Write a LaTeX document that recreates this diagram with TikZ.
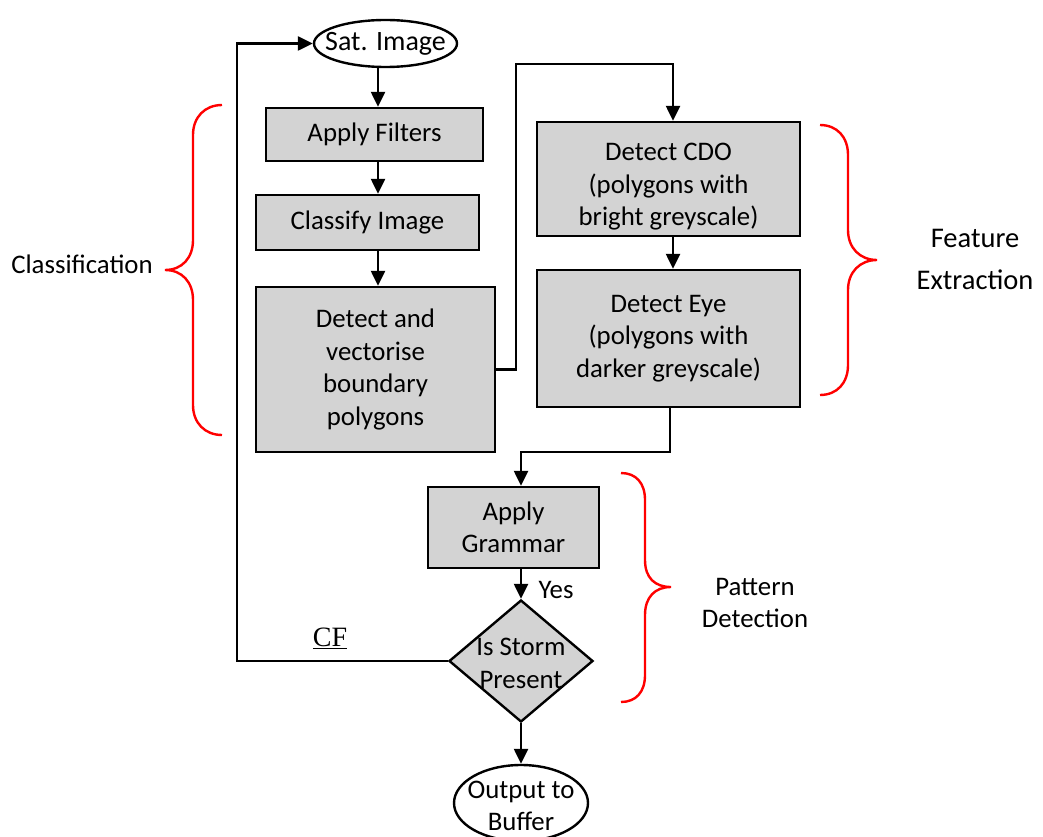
\documentclass[tikz,border=0pt]{standalone}
\usepackage{fontspec}
\setmainfont{Carlito}
\newfontfamily\timesf{Liberation Serif}
\usetikzlibrary{arrows.meta,shapes.geometric}
\definecolor{boxgrey}{RGB}{211,211,211}
\begin{document}
\begin{tikzpicture}[x=1pt,y=-1pt,
  every node/.style={font=\fontsize{26.8}{32.5}\selectfont},
  box/.style={draw=black, line width=2.4pt, fill=boxgrey, align=center, inner sep=0pt},
  term/.style={draw=black, line width=2.4pt, ellipse, fill=white, inner sep=0pt},
  decision/.style={draw=black, line width=2.4pt, diamond, fill=boxgrey, inner sep=0pt, minimum width=144pt, minimum height=122pt, text height=0pt, text depth=0pt},
  arr/.style={line width=2.4pt, -{Triangle[length=15pt,width=14pt]}},
  brace/.style={draw=red, line width=2.4pt},
  lbl/.style={align=center}
]
\useasboundingbox (0,0) rectangle (1043,837);

% nodes
\node[term, minimum width=143pt, minimum height=47pt] (sat) at (385.5,43.5) {\makebox[0pt]{\fontsize{28}{32.5}\selectfont Sat. Image}};
\node[box, minimum width=217pt, minimum height=53pt] (filt) at (374.5,134.5) {Apply Filters};
\node[box, minimum width=223pt, minimum height=55pt] (cls) at (367.5,222.5) {Classify Image};
\node[box, minimum width=239pt, minimum height=165pt] (det) at (375.5,369.5) {Detect and\\vectorise\\boundary\\polygons};
\node[box, minimum width=263pt, minimum height=114pt] (cdo) at (668.5,179) {\rule{0pt}{33pt}Detect CDO\\(polygons with\\bright greyscale)};
\node[box, minimum width=263pt, minimum height=137pt] (eye) at (668.5,338.5) {Detect Eye\\(polygons with\\darker greyscale)};
\node[box, minimum width=171pt, minimum height=81pt] (gram) at (513.5,527.5) {Apply\\Grammar};
\node[decision] (dec) at (521,661) {\raisebox{-10.5pt}{\makebox[0pt]{\begin{tabular}{@{}c@{}}Is Storm\\Present\end{tabular}}}};
\node[term, minimum width=134pt, minimum height=76pt, text height=0pt, text depth=0pt] (out) at (521,803) {\raisebox{-11pt}{\makebox[0pt]{\begin{tabular}{@{}c@{}}Output to\\Buffer\end{tabular}}}};

% labels
\node[lbl] (lcls) at (82,264) {Classification};
\node[lbl, font=\fontsize{28.5}{42}\selectfont] (lfe) at (975,259) {Feature\\Extraction};
\node[lbl] (lpd) at (755,603) {Pattern\\Detection};
\node (yes) at (556,590) {Yes};
\node[font=\timesf\fontsize{28}{32}\selectfont] (cf) at (330,638) {\underline{CF}};

% connectors
\coordinate (c1) at (378,0);
\draw[arr] (sat.south -| c1) -- (filt.north -| c1);
\draw[arr] (filt.south -| c1) -- (cls.north -| c1);
\draw[arr] (cls.south -| c1) -- (det.north -| c1);
\coordinate (k1) at (516,64);
\coordinate (k2) at (673,64);
\draw[arr] (det.east) -| (k1) -- (k2) -- (cdo.north -| k2);
\draw[arr] (cdo.south -| k2) -- (eye.north -| k2);
\coordinate (k3) at (670,452);
\coordinate (k4) at (521,452);
\draw[arr] (eye.south -| k3) -- (k3) -- (k4) -- (gram.north -| k4);
\draw[arr] (gram.south -| dec.north) -- (dec.north);
\draw[arr] (dec.south) -- (out.north);
\coordinate (k5) at (237,661);
\draw[arr] (dec.west) -- (k5 |- dec.west) |- (sat.west);

% braces
\draw[brace] (222,105) .. controls (205,105) and (193,117) .. (193,135) -- (193,240) .. controls (193,258) and (182,270) .. (165,270) .. controls (182,270) and (193,282) .. (193,300) -- (193,405) .. controls (193,423) and (205,435) .. (222,435);
\draw[brace] (820,125) .. controls (837,125) and (848,137) .. (848,155) -- (848,230) .. controls (848,248) and (860,260) .. (877,260) .. controls (860,260) and (848,272) .. (848,290) -- (848,365) .. controls (848,383) and (837,395) .. (820,395);
\draw[brace] (621,473) .. controls (636,473) and (645,483) .. (645,500) -- (645,560) .. controls (645,578) and (655,587) .. (671,587) .. controls (655,587) and (645,597) .. (645,615) -- (645,675) .. controls (645,692) and (636,702) .. (621,702);
\end{tikzpicture}
\end{document}
